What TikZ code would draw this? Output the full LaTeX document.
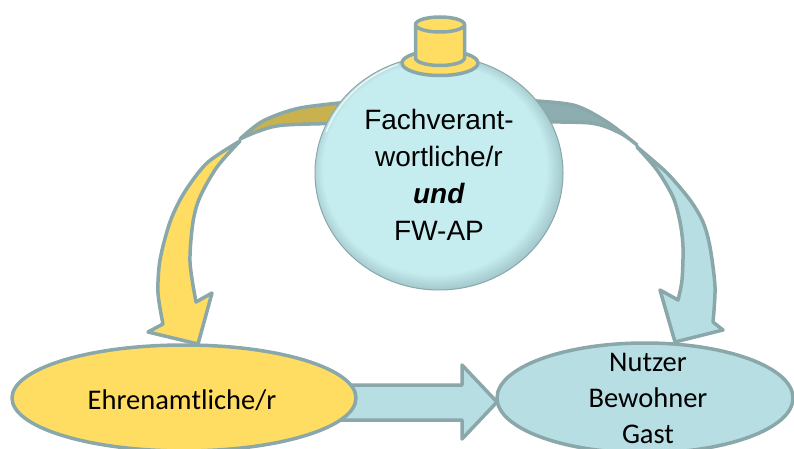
\documentclass[tikz,border=0pt]{standalone}
\usepackage{fontspec}
\setmainfont{Liberation Sans}
\newfontfamily\calibrifont{Carlito}
\usetikzlibrary{positioning}

\definecolor{rimgray}{HTML}{8AA7A9}
\definecolor{warmyellow}{HTML}{FFDD63}
\definecolor{olivegold}{HTML}{C9B24E}
\definecolor{palecyan}{HTML}{C5ECEF}
\definecolor{ballmid}{HTML}{A3C8CB}
\definecolor{ballrim}{HTML}{4E6466}
\definecolor{lightteal}{HTML}{B7DEE2}
\definecolor{darkteal}{HTML}{8DAEB0}

\pgfdeclareradialshading{glassball}{\pgfpoint{-4bp}{4bp}}{color(0bp)=(palecyan); color(22.5bp)=(palecyan); color(25.5bp)=(ballmid); color(29bp)=(ballrim)}

\tikzset{
  outline/.style={draw=rimgray, line width=3.5, line join=round},
  bigtext/.style={align=center, font=\fontsize{28}{37}\selectfont},
  roletext/.style={align=center, font=\calibrifont\fontsize{28.5}{36}\selectfont}
}

\begin{document}
\begin{tikzpicture}[x=1pt, y=-1pt]
  \useasboundingbox (0,0) rectangle (794,449);
  % Left curved arrow (twisted ribbon)
  \path[outline, fill=olivegold] plot[smooth] coordinates {(360,101) (300,108) (263,121) (240,139)}
    -- plot[smooth] coordinates {(240,139) (259,131) (285,125) (360,123)} -- cycle;
  \path[outline, fill=warmyellow] plot[smooth] coordinates {(240,141) (207,163) (184,193) (170,222) (160,260) (158,293) (163,324)}
    -- (148,332) -- (198,344) -- (212,293) --
    plot[smooth] coordinates {(196,302) (190,262) (193,222) (200,197) (217,167) (240,141)} -- cycle;
  % Right curved arrow (twisted ribbon)
  \path[outline, fill=darkteal] plot[smooth] coordinates {(520,100) (573,105) (607,122) (637,145)}
    -- plot[smooth] coordinates {(637,145) (620,133) (590,123) (520,122)} -- cycle;
  \path[outline, fill=lightteal] plot[smooth] coordinates {(637,147) (667,173) (690,200) (703,222) (710,247) (715,287) (713,322)}
    -- (723,330) -- (675,342) -- (660,290) --
    plot[smooth] coordinates {(678,300) (682,280) (683,247) (680,222) (673,197) (657,170) (637,147)} -- cycle;
  % Straight arrow
  \path[outline, fill=lightteal] (330,385) -- (462,385) -- (462,365) -- (497,402) -- (462,439)
    -- (462,420) -- (330,420) -- cycle;
  % Ellipses
  \path[outline, fill=warmyellow] (184,398) ellipse [x radius=172, y radius=53];
  \path[outline, fill=lightteal] (645,398) ellipse [x radius=148, y radius=55];
  % Ball
  \path[shading=glassball] (439,173) ellipse [x radius=124, y radius=117];
  \draw[rimgray, line width=1] (439,173) ellipse [x radius=124, y radius=117];
  \draw[white, opacity=.7, line width=1.5] (439,173) ++(200:120) arc [start angle=200, end angle=250, x radius=120, y radius=113];
  % Hat
  \path[outline, fill=warmyellow] (440,63) ellipse [x radius=38, y radius=12.5];
  \path[outline, fill=warmyellow] (415.5,24.5) -- (415.5,58) arc [start angle=180, end angle=0, x radius=24.5, y radius=7.5]
    -- (464.5,24.5) -- cycle;
  \path[outline, fill=warmyellow] (440,24.5) ellipse [x radius=24.5, y radius=7.5];
  % Labels
  \node[bigtext] (fachkraft) at (439,175) {Fachverant-\\wortliche/r\\\textbf{\textit{und}}\\FW-AP};
  \node[roletext] (ehrenamt) at (182,400) {Ehrenamtliche/r};
  \node[roletext] (nutzer) at (648,398) {Nutzer\\Bewohner\\Gast};
\end{tikzpicture}
\end{document}
